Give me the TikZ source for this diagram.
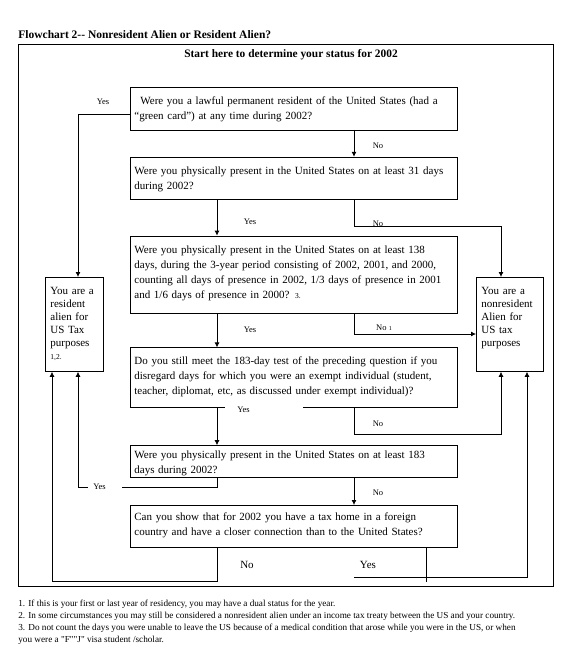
\documentclass[tikz,border=0pt]{standalone}
\usepackage{fontspec}
\setmainfont{Liberation Serif}
\newfontfamily\rawquote[Ligatures=TeXOff]{Liberation Serif}
\usetikzlibrary{positioning,arrows.meta}

\tikzset{
  quest/.style={draw, anchor=north west, text width=319pt, align=left,
    inner xsep=4pt, inner ysep=6pt, text height=11pt,
    font=\fontsize{11}{15}\selectfont},
  result/.style={draw, anchor=north west, align=left, inner xsep=5pt,
    inner ysep=6pt, text height=11pt, text depth=71pt,
    font=\fontsize{11}{13}\selectfont},
  lbl/.style={font=\fontsize{8.5}{9}\selectfont, inner sep=1pt},
  ans/.style={font=\fontsize{11}{12}\selectfont},
  arr/.style={-{Latex[length=5pt,width=5pt]}},
}

\begin{document}
\begin{tikzpicture}[x=1pt,y=-1pt,line width=0.8pt]
  \useasboundingbox (0,0) rectangle (571,649);

  % Frame and headings
  \node[anchor=west, inner sep=0pt, font=\fontsize{11.5}{13}\bfseries] (title) at (18,35)
    {Flowchart 2-{}- Nonresident Alien or Resident Alien?};
  \draw (18,44) rectangle (553,586);
  \node[font=\fontsize{11.4}{13}\bfseries] (start) at (291,55)
    {Start here to determine your status for 2002};

  % Define nodes
  \node[quest, text depth=20pt] (q1) at (130,87)
    {\hspace*{6pt}Were you a lawful permanent resident of the United States (had a\\
     ``green card'') at any time during 2002?};
  \node[quest, text depth=19pt, below=26pt of q1] (q2)
    {Were you physically present in the United States on at least 31 days\\
     during 2002?};
  \node[quest, text depth=54pt, below=36pt of q2] (q3)
    {Were you physically present in the United States on at least 138\\
     days, during the 3-year period consisting of 2002, 2001, and 2000,\\
     counting all days of presence in 2002, 1/3 days of presence in 2001\\
     and 1/6 days of presence in 2000? {\fontsize{7.5}{8}\selectfont 3.}};
  \node[quest, text depth=37pt, below=34pt of q3] (q4)
    {Do you still meet the 183-day test of the preceding question if you\\
     disregard days for which you were an exempt individual (student,\\
     teacher, diplomat, etc, as discussed under exempt individual)?};
  \node[quest, inner ysep=2pt, text depth=17pt, below=37pt of q4] (q5)
    {Were you physically present in the United States on at least 183\\
     days during 2002?};
  \node[quest, inner ysep=4pt, text depth=23pt, below=27pt of q5] (q6)
    {Can you show that for 2002 you have a tax home in a foreign\\
     country and have a closer connection than to the United States?};

  \node[result, text width=48pt] (res) at (45,277)
    {You are a\\resident\\alien for\\US Tax\\purposes\\{\fontsize{7.5}{8}\selectfont 1,2.}};
  \node[result, text width=57pt] (nonres) at (476,277)
    {You are a\\nonresident\\Alien for\\US tax\\purposes};

  % Columns of the connectors
  \coordinate (colL) at (217,0);
  \coordinate (colR) at (354,0);
  \coordinate (colY) at (426,0);
  \coordinate (colA) at (501,0);
  \coordinate (colB) at (527,0);
  \coordinate (colP) at (52,0);
  \coordinate (colQ) at (78,0);
  \coordinate (yesend) at (354,577);

  % Connect the nodes
  \draw[arr] (q1.west |- 0,114) -| (res.north -| colQ);
  \draw[arr] (q1.south -| colR) -- (q2.north -| colR);
  \draw[arr] (q2.south -| colL) -- (q3.north -| colL);
  \draw[arr] (q2.south -| colR) -- ++(0,27) -| (nonres.north -| colA);
  \draw[arr] (q3.south -| colL) -- (q4.north -| colL);
  \draw[arr] (q3.south -| colR) |- (nonres.west |- 0,334);
  \draw[arr] (q4.south -| colL) -- (q5.north -| colL);
  \draw[arr] (q4.south -| colR) -- ++(0,26) -| (nonres.south -| colA);
  \draw[arr] (q5.south -| colR) -- (q6.north -| colR);
  \draw[arr] (q5.south -| colL) -- ++(0,9) -| (res.south -| colQ);
  \draw[arr] (q6.south -| colL) -- ++(0,34) -| (res.south -| colP);
  \draw (q6.south -| colY) -- ++(0,34);
  \draw[arr] (yesend) -| (nonres.south -| colB);

  % Answers
  \node[lbl] (a1) at (103,102) {Yes};
  \node[lbl] (a2) at (378,146) {No};
  \node[lbl] (a3) at (250,222) {Yes};
  \node[lbl] (a4) at (378,224) {No};
  \node[lbl] (a5) at (250,330) {Yes};
  \node[lbl] (a6) at (384,328) {No {\fontsize{6}{6}\selectfont 1}};
  \node[lbl, fill=white, anchor=west, text width=74pt, inner xsep=2pt, align=left]
    (a7) at (225,410) {\hspace*{10pt}Yes};
  \node[lbl] (a8) at (378,424) {No};
  \node[lbl, fill=white, anchor=west, text width=30pt, inner xsep=2pt, align=left,
    minimum height=12pt] (a9) at (88,487) {\hspace*{3pt}Yes};
  \node[lbl] (a10) at (378,493) {No};
  \node[ans] (a11) at (247,565) {No};
  \node[ans] (a12) at (368,565) {Yes};

  % Notes
  \node[anchor=north west, align=left, inner sep=0pt, font=\fontsize{9.2}{12}\selectfont]
    (notes) at (18,600)
    {1. If this is your first or last year of residency, you may have a dual status for the year.\\
     2. In some circumstances you may still be considered a nonresident alien under an income tax treaty between the US and your country.\\
     3. Do not count the days you were unable to leave the US because of a medical condition that arose while you were in the US, or when\\
     you were a {\rawquote "F""J"} visa student /scholar.};
\end{tikzpicture}
\end{document}
